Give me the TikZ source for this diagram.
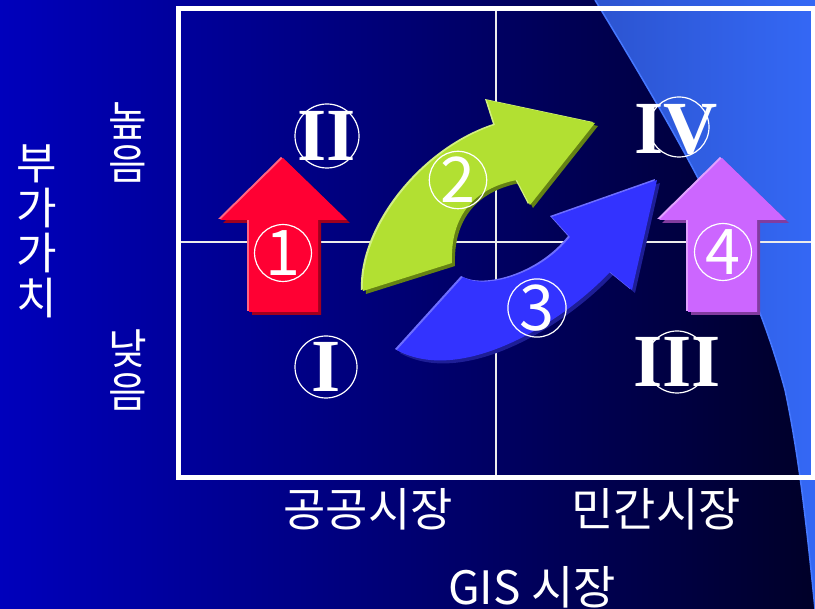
\documentclass[tikz,border=0pt]{standalone}
\usepackage{fontspec}
\setmainfont{Liberation Serif}
\newfontfamily\kr{Noto Sans CJK KR}
\definecolor{bgL}{RGB}{0,0,188}
\definecolor{bgR}{RGB}{0,0,40}
\definecolor{lbL}{RGB}{44,84,208}
\definecolor{lbR}{RGB}{52,104,245}
\definecolor{lbEdge}{RGB}{70,120,255}
\definecolor{redM}{RGB}{255,0,51}
\definecolor{redH}{RGB}{255,100,130}
\definecolor{redS}{RGB}{160,0,30}
\definecolor{purM}{RGB}{204,102,255}
\definecolor{purH}{RGB}{225,160,255}
\definecolor{purS}{RGB}{130,60,160}
\definecolor{grnM}{RGB}{178,224,50}
\definecolor{grnH}{RGB}{210,240,130}
\definecolor{grnS}{RGB}{100,130,20}
\definecolor{bluM}{RGB}{51,51,255}
\definecolor{bluH}{RGB}{110,110,255}
\definecolor{bluS}{RGB}{30,30,150}
\newcommand{\uparrowpath}[1]{(#1,158) -- ++(64,62) -- ++(-29,0) -- ++(0,92) -- ++(-69,0) -- ++(0,-92) -- ++(-29,0) -- cycle}
\newcommand{\greenpath}{(363,291) .. controls (360,230) and (420,150) .. (495,125) -- (487,100) -- (595,123) -- (530,205) -- (517,180) .. controls (475,188) and (450,215) .. (452,263) -- cycle}
\newcommand{\bluepath}{(397,350) -- (463,277) .. controls (485,290) and (540,275) .. (570,237) -- (552,217) -- (657,180) -- (632,290) -- (610,272) .. controls (560,325) and (460,385) .. (397,350) -- cycle}
\begin{document}
\begin{tikzpicture}[x=1pt,y=-1pt,
  lab/.style={text=white, inner sep=0pt, font=\kr\fontsize{46}{46}\selectfont},
  vlab/.style={text=white, inner sep=0pt, align=center, font=\kr\fontsize{42}{43}\selectfont},
  numc/.style={circle, draw=white, line width=1.2pt, minimum size=56pt, inner sep=0pt, text=white, font=\kr\fontsize{63}{63}\selectfont},
  romtext/.style={text=white, inner sep=0pt, font=\bfseries\fontsize{75}{75}\selectfont},
  romring/.style={draw=white, line width=1.2pt},
  grid/.style={draw=white!85!gray, line width=1.5pt},
  frame/.style={draw=white, line width=5pt}]
\useasboundingbox (0,0) rectangle (815,609);
% background
\fill[left color=bgL, right color=bgR] (0,0) rectangle (815,609);
% light blue region
\fill[left color=lbL, right color=lbR] (595,0) .. controls (680,140) and (750,260) .. (785,390) .. controls (800,460) and (808,540) .. (815,609) -- (815,0) -- cycle;
\draw[lbEdge, line width=1.5pt] (595,0) .. controls (680,140) and (750,260) .. (785,390) .. controls (800,460) and (808,540) .. (815,609);
% grid and frame
\coordinate (ftl) at (178,9);
\coordinate (fbr) at (813,478);
\coordinate (vt) at (496,9);
\coordinate (vb) at (496,478);
\coordinate (hl) at (178,242);
\coordinate (hr) at (813,242);
\draw[grid] (vt) -- (vb);
\draw[grid] (hl) -- (hr);
\draw[frame] (ftl) rectangle (fbr);
% arrow 1 (red)
\fill[redS, shift={(3,3)}] \uparrowpath{283};
\fill[redH, shift={(-2,-1)}] \uparrowpath{283};
\fill[redM] \uparrowpath{283};
% arrow 4 (purple)
\fill[purS, shift={(3,3)}] \uparrowpath{722};
\fill[purH, shift={(-2,-1)}] \uparrowpath{722};
\fill[purM] \uparrowpath{722};
% arrow 2 (green)
\fill[grnS, shift={(3,3)}] \greenpath;
\fill[grnH, shift={(-2,-1)}] \greenpath;
\fill[grnM] \greenpath;
% arrow 3 (blue)
\fill[bluS, shift={(3,3)}] \bluepath;
\fill[bluH, shift={(-2,-1)}] \bluepath;
\fill[bluM] \bluepath;
% numbered circles
\node[numc] (c1) at (283,253) {1};
\node[numc] (c2) at (458,180) {2};
\node[numc] (c3) at (537,308) {3};
\node[numc] (c4) at (723,252) {4};
% roman numerals
\node[romtext] (r1) at (326,367) {I};
\node[romtext] (r2) at (327,136) {II};
\node[romtext] (r3) at (677,362) {III};
\node[romtext] (r4) at (676,130) {IV};
\draw[romring] (r1.center) circle[radius=31];
\draw[romring] (r2.center) circle[radius=32];
\draw[romring] (r3.center) circle[radius=31];
\draw[romring] ([xshift=3pt,yshift=3pt]r4.center) circle[radius=30];
% labels
\node[lab, align=center, font=\kr\fontsize{44}{45}\selectfont] (bu) at (37,231) {부\\가\\가\\치};
\node[vlab] (hi) at (128,142) {높\\음};
\node[vlab] (lo) at (128,370) {낮\\음};
\node[lab] (pub) at (368,509) {공공시장};
\node[lab] (pri) at (656,509) {민간시장};
\node[lab] (gis) at (532,587) {GIS 시장};
\end{tikzpicture}
\end{document}
